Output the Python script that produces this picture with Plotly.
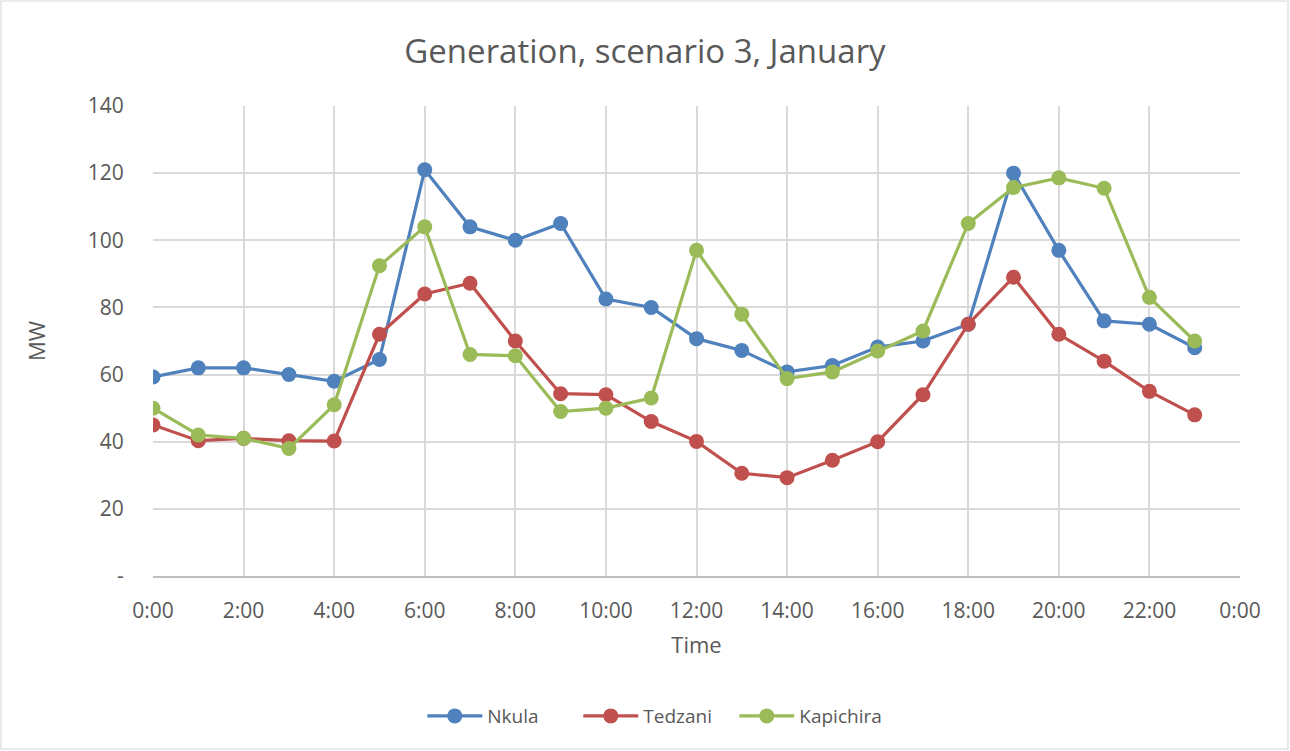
import plotly.graph_objects as go

hours = list(range(24))
tick_vals = list(range(0, 25, 2))
tick_text = ["0:00", "2:00", "4:00", "6:00", "8:00", "10:00", "12:00", "14:00",
             "16:00", "18:00", "20:00", "22:00", "0:00"]
y_tick_vals = [0, 20, 40, 60, 80, 100, 120, 140]
y_tick_text = ["-", "20", "40", "60", "80", "100", "120", "140"]

nkula = [59.3, 62, 62, 60, 58, 64.5, 121, 104, 100, 105, 82.5, 80,
         70.7, 67.2, 60.8, 62.7, 68.2, 70, 75, 120, 97, 76, 75, 68]
tedzani = [45, 40.3, 41, 40.3, 40.2, 72, 84, 87.2, 70, 54.3, 54, 46,
           40.1, 30.6, 29.3, 34.5, 40, 54, 75, 89, 72, 64, 55, 48]
kapichira = [50, 42, 41, 38, 51, 92.4, 104, 66, 65.6, 49, 50, 53,
             97, 78, 58.8, 60.8, 67, 73, 105, 115.7, 118.6, 115.5, 83, 70]

series = [("Nkula", nkula, "#4f81bd"),
          ("Tedzani", tedzani, "#c0504d"),
          ("Kapichira", kapichira, "#9bbb59")]

fig = go.Figure()
for name, vals, col in series:
    fig.add_trace(go.Scatter(
        x=hours, y=vals, name=name, mode="lines+markers",
        line=dict(color=col, width=3.2),
        marker=dict(color=col, size=15),
    ))

font_family = "'Open Sans', sans-serif"
grey = "#595959"

fig.update_layout(
    width=1290, height=751,
    margin=dict(l=153, r=50, t=106, b=175),
    paper_bgcolor="white", plot_bgcolor="white",
    font=dict(family=font_family, color=grey, size=20),
    title=dict(text="Generation, scenario 3, January", x=0.5, xanchor="center",
               y=1 - 51 / 751, yanchor="middle",
               font=dict(size=33, color=grey, family=font_family)),
    showlegend=True,
    legend=dict(orientation="h", x=0.463, xanchor="center", y=-0.298, yanchor="middle",
                font=dict(size=19, color=grey), traceorder="normal", itemwidth=55,
                entrywidth=86, entrywidthmode="pixels"),
    xaxis=dict(range=[0, 24], tickvals=tick_vals, ticktext=tick_text,
               showgrid=True, gridcolor="#d9d9d9", gridwidth=1.5,
               showline=True, linecolor="#bfbfbf", linewidth=1.5,
               ticks="outside", ticklen=15, tickcolor="rgba(0,0,0,0)", zeroline=False,
               title=dict(text="Time", font=dict(size=22, color=grey), standoff=15),
               tickfont=dict(size=21, color=grey)),
    yaxis=dict(range=[0, 140], tickvals=y_tick_vals, ticktext=y_tick_text,
               showgrid=True, gridcolor="#d9d9d9", gridwidth=1.5,
               showline=False, ticks="outside", ticklen=24, tickcolor="rgba(0,0,0,0)",
               zeroline=False,
               title=dict(text="MW", font=dict(size=22, color=grey), standoff=36),
               tickfont=dict(size=21, color=grey)),
)

pw, ph = 1290 - 153 - 50, 751 - 106 - 175
fig.add_shape(type="rect", xref="paper", yref="paper",
              x0=(1 - 153) / pw, x1=(1288 - 153) / pw,
              y0=(576 - 749) / ph, y1=(576 - 1) / ph,
              line=dict(color="#d9d9d9", width=1.2), fillcolor="rgba(0,0,0,0)", layer="below")

fig.write_html("out.html", config={"displayModeBar": False},
               post_script="document.body.style.margin='0';document.body.style.overflow='hidden';")
